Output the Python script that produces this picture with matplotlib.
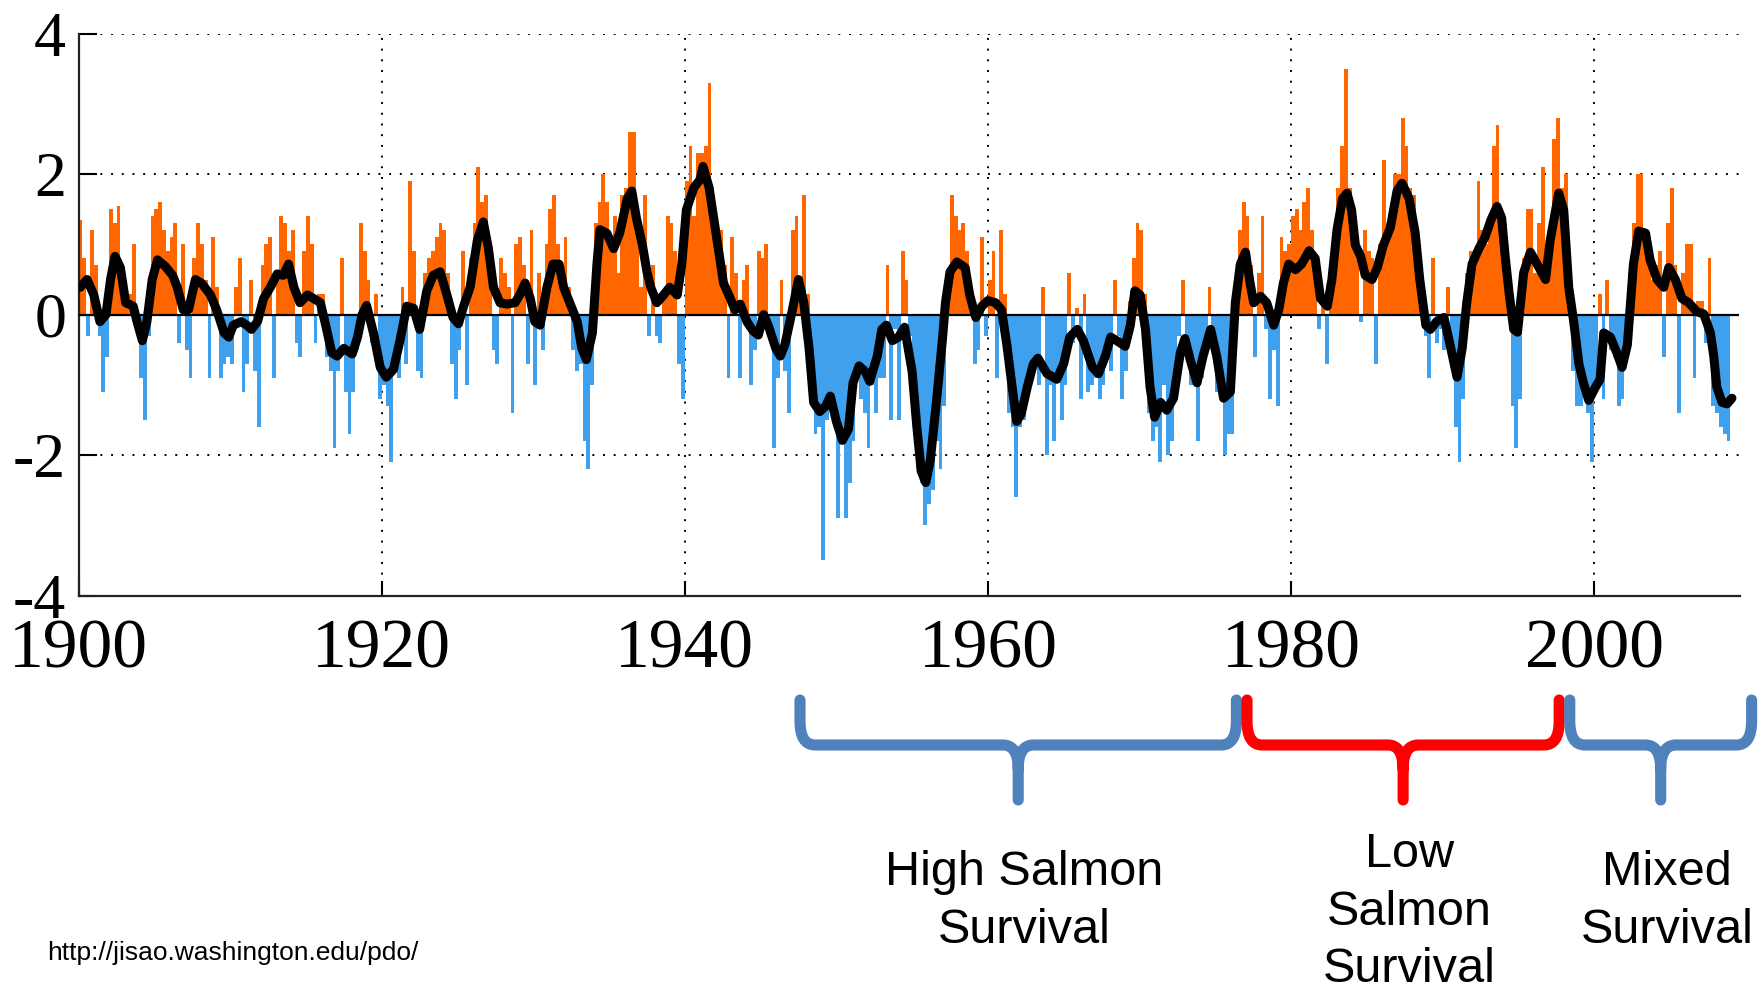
import numpy as np
import matplotlib
matplotlib.use("Agg")
import matplotlib.pyplot as plt
from matplotlib.path import Path
from matplotlib.patches import PathPatch
from matplotlib.transforms import blended_transform_factory

plt.rcParams['axes.unicode_minus'] = False

# --- Data ---
# quarterly PDO index (Jan-Mar, Apr-Jun, Jul-Sep, Oct-Dec), one row per year
pdo_1900s = [1.35, 0.8, -0.3, 1.2,   0.7, -0.3, -1.1, -0.6,   1.5, 1.3, 1.55, 0.3,
             0.4, 0.3, 1.0, -0.2,    -0.9, -1.5, -0.3, 1.4,   1.5, 1.6, 1.2, 0.9,
             1.1, 1.3, -0.4, 1.0,    -0.5, -0.9, 0.8, 1.3,    1.0, 0.5, -0.9, 1.1,
             0.4, -0.9, -0.7, -0.6]
pdo_1910s = [-0.7, 0.4, 0.8, -1.1,   -0.7, 0.5, -0.8, -1.6,   0.7, 1.0, 1.1, -0.9,
             0.6, 1.4, 1.3, 0.9,     1.2, -0.4, -0.6, 0.9,    1.4, 1.0, -0.4, 0.3,
             0.3, -0.6, -0.8, -1.9,  -0.8, 0.8, -1.1, -1.7,   -1.1, -0.5, 1.3, 0.9,
             0.5, -0.4, 0.3, -1.2]
pdo_1920s = [-1.0, -1.3, -2.1, -0.5, -0.9, 0.4, -0.7, 1.9,    0.9, -0.8, -0.9, 0.6,
             0.8, 0.9, 1.1, 1.3,     1.2, 0.6, -0.7, -1.2,    -0.5, 0.9, -1.0, 0.8,
             1.3, 2.1, 1.6, 1.7,     0.9, -0.5, -0.7, 0.8,    0.6, 0.4, -1.4, 1.0,
             1.1, 0.7, -0.7, 1.2]
pdo_1930s = [-1.0, 0.6, -0.5, 1.0,   1.5, 1.7, 1.0, 0.5,      1.1, 0.4, -0.5, -0.8,
             -0.7, -1.8, -2.2, -1.0, 1.3, 1.6, 2.0, 1.6,      1.0, 1.4, 0.6, 1.7,
             1.8, 2.6, 2.6, 1.4,     0.4, 1.7, -0.3, 0.7,     -0.3, -0.4, 0.3, 1.4,
             1.3, 0.9, -0.7, -1.2]
pdo_1940s = [1.9, 2.4, 1.4, 2.3,     2.3, 2.4, 3.3, 1.4,      0.9, 1.2, 0.7, -0.9,
             1.1, 0.6, -0.9, 0.5,    0.7, -1.0, -0.5, 0.9,    0.8, 1.0, -0.3, -1.9,
             -0.9, 0.5, -0.8, -1.4,  1.2, 1.4, 0.3, 1.7,      0.3, -0.7, -1.7, -1.6,
             -3.5, -1.5, -1.1, -1.4]
pdo_1950s = [-2.9, -1.8, -2.9, -2.4, -1.8, -0.7, -1.2, -1.4,  -1.9, -1.0, -1.4, -0.9,
             -0.9, 0.7, -1.5, -0.2,  -1.5, 0.9, 0.5, -0.3,    -1.3, -2.2, -2.4, -3.0,
             -2.7, -2.5, -1.8, -2.2, -1.3, 0.6, 1.7, 1.4,     1.2, 1.3, 0.9, 0.4,
             -0.7, -0.5, 1.1, -0.3]
pdo_1960s = [0.5, 0.9, -0.9, 1.2,    0.3, -1.4, -1.6, -2.6,   -1.6, -1.5, -1.1, -0.8,
             -0.7, -1.0, 0.4, -2.0,  -1.0, -1.8, -0.9, -1.5,  -1.0, 0.6, -0.4, 0.1,
             -1.2, 0.3, -1.1, -1.0,  -0.9, -1.2, -1.0, -0.6,  -0.8, 0.5, -0.3, -1.2,
             -0.8, 0.2, 0.8, 1.3]
pdo_1970s = [1.2, 0.3, -1.4, -1.8,   -1.6, -2.1, -1.0, -2.0,  -1.8, -1.2, -0.3, 0.5,
             -0.5, -1.0, -1.0, -1.8, -0.9, -0.3, 0.4, -0.3,   -1.1, -1.2, -2.0, -1.7,
             -1.7, 0.3, 1.2, 1.6,    1.4, 0.7, -0.6, 0.6,     1.4, -0.2, -1.2, -0.5,
             -1.3, 1.1, 0.9, 1.0]
pdo_1980s = [1.4, 1.5, 1.2, 1.6,     1.8, 1.2, 0.8, -0.2,     0.3, -0.7, 0.6, 1.2,
             1.8, 2.4, 3.5, 1.8,     1.4, 0.9, -0.1, 1.2,     0.9, 0.8, -0.7, 1.0,
             2.2, 1.3, 1.4, 2.0,     2.0, 2.8, 2.4, 1.8,      1.7, 1.0, 0.3, -0.3,
             -0.9, 0.8, -0.4, -0.2]
pdo_1990s = [-0.5, 0.4, -0.6, -1.6,  -2.1, -1.2, 0.6, 0.9,    0.9, 1.9, 1.2, 1.0,
             1.3, 2.4, 2.7, 1.4,     1.3, 0.2, -1.3, -1.9,    -1.2, 0.8, 1.5, 1.5,
             0.6, 1.3, 2.1, 0.5,     1.3, 2.5, 2.8, 1.8,      2.0, 0.6, -0.8, -1.3,
             -1.3, -0.9, -1.4, -2.1]
pdo_2000s = [-1.0, 0.3, -1.2, 0.5,   -0.5, -0.6, -1.3, -1.2,  -0.6, 0.6, 1.3, 2.0,
             2.0, 1.1, 0.7, 0.5,     0.7, 0.9, -0.6, 1.3,     1.8, 0.7, -1.4, 0.6,
             1.0, 1.0, -0.9, 0.2,    0.2, -0.4, 0.8, -1.3,    -1.4, -1.6, -1.7, -1.8]

# smoothed curve (black line), read at irregular points
smooth_years = [
    1900.1, 1900.55, 1901.0, 1901.4, 1901.8, 1902.1, 1902.4, 1902.75, 1903.1, 1903.6,
    1903.85, 1904.2, 1904.5, 1904.85, 1905.2, 1905.7, 1906.2, 1906.5, 1906.9, 1907.25,
    1907.7, 1908.1, 1908.7, 1909.1, 1909.6, 1909.9, 1910.2, 1910.7, 1911.1, 1911.4,
    1911.8, 1912.2, 1912.65, 1913.1, 1913.5, 1913.85, 1914.2, 1914.6, 1915.1, 1915.5,
    1915.95, 1916.3, 1916.7, 1917.05, 1917.5, 1918.05, 1918.4, 1918.7, 1919.0, 1919.45,
    1919.9, 1920.3, 1920.77, 1921.2, 1921.65, 1922.1, 1922.5, 1922.97, 1923.4, 1923.85,
    1924.3, 1924.7, 1925.06, 1925.4, 1925.83, 1926.3, 1926.7, 1927.04, 1927.37, 1927.8,
    1928.25, 1928.8, 1929.1, 1929.46, 1929.8, 1930.1, 1930.45, 1930.9, 1931.3, 1931.7,
    1932.0, 1932.5, 1932.9, 1933.2, 1933.5, 1933.9, 1934.2, 1934.4, 1934.85, 1935.3,
    1935.7, 1936.2, 1936.5, 1936.8, 1937.2, 1937.5, 1937.75, 1938.15, 1938.6, 1939.0,
    1939.5, 1939.8, 1940.1, 1940.6, 1941.0, 1941.2, 1941.6, 1941.9, 1942.2, 1942.55,
    1943.0, 1943.3, 1943.65, 1944.1, 1944.5, 1944.85, 1945.2, 1945.5, 1946.0, 1946.3,
    1946.6, 1947.1, 1947.5, 1947.85, 1948.2, 1948.5, 1948.9, 1949.3, 1949.6, 1950.0,
    1950.4, 1950.8, 1951.1, 1951.5, 1951.9, 1952.2, 1952.7, 1953.0, 1953.3, 1953.7,
    1954.1, 1954.5, 1955.0, 1955.3, 1955.6, 1955.9, 1956.2, 1956.6, 1957.0, 1957.2,
    1957.5, 1957.95, 1958.5, 1958.8, 1959.2, 1959.6, 1960.0, 1960.5, 1960.9, 1961.25,
    1961.6, 1961.9, 1962.2, 1962.6, 1963.0, 1963.3, 1963.9, 1964.55, 1965.0, 1965.4,
    1965.9, 1966.3, 1966.9, 1967.3, 1967.75, 1968.1, 1968.5, 1969.06, 1969.4, 1969.7,
    1970.05, 1970.4, 1970.7, 1971.0, 1971.4, 1971.8, 1972.25, 1972.7, 1973.0, 1973.35,
    1973.8, 1974.2, 1974.7, 1975.1, 1975.55, 1976.0, 1976.33, 1976.66, 1977.0, 1977.3,
    1977.54, 1978.0, 1978.4, 1978.86, 1979.2, 1979.5, 1979.85, 1980.3, 1980.7, 1981.2,
    1981.6, 1981.95, 1982.4, 1982.7, 1983.04, 1983.4, 1983.7, 1984.0, 1984.25, 1984.6,
    1984.9, 1985.35, 1985.7, 1986.1, 1986.56, 1987.0, 1987.33, 1987.8, 1988.2, 1988.5,
    1988.9, 1989.2, 1989.6, 1990.1, 1990.5, 1990.96, 1991.3, 1991.6, 1991.95, 1992.4,
    1992.8, 1993.2, 1993.6, 1993.9, 1994.15, 1994.4, 1994.7, 1994.95, 1995.36, 1995.8,
    1996.24, 1996.8, 1997.1, 1997.67, 1998.0, 1998.33, 1998.66, 1999.0, 1999.3, 1999.65,
    2000.1, 2000.4, 2000.64, 2001.08, 2001.5, 2001.85, 2002.2, 2002.6, 2002.95, 2003.4,
    2003.7, 2004.16, 2004.6, 2004.93, 2005.37, 2005.8, 2006.25, 2006.8, 2007.24, 2007.68,
    2007.9, 2008.1, 2008.45, 2008.78, 2009.1]
smooth_values = [
    0.39, 0.5, 0.28, -0.1, 0.0, 0.5, 0.83, 0.67, 0.17, 0.12,
    -0.1, -0.37, -0.1, 0.5, 0.78, 0.69, 0.56, 0.39, 0.07, 0.07,
    0.5, 0.45, 0.28, 0.07, -0.26, -0.32, -0.15, -0.1, -0.15, -0.21,
    -0.1, 0.23, 0.39, 0.58, 0.56, 0.72, 0.39, 0.17, 0.28, 0.23,
    0.17, -0.15, -0.54, -0.59, -0.48, -0.56, -0.32, 0.0, 0.13, -0.26,
    -0.75, -0.89, -0.78, -0.37, 0.12, 0.09, -0.21, 0.34, 0.56, 0.61,
    0.28, -0.04, -0.13, 0.12, 0.39, 1.05, 1.32, 0.94, 0.39, 0.17,
    0.15, 0.17, 0.28, 0.45, 0.23, -0.1, -0.15, 0.39, 0.72, 0.72,
    0.39, 0.12, -0.1, -0.48, -0.64, -0.26, 0.72, 1.21, 1.16, 0.94,
    1.16, 1.65, 1.76, 1.38, 0.99, 0.61, 0.39, 0.17, 0.28, 0.39,
    0.28, 0.72, 1.49, 1.81, 1.92, 2.11, 1.81, 1.38, 0.94, 0.45,
    0.23, 0.07, 0.15, -0.1, -0.23, -0.29, 0.0, -0.15, -0.48, -0.59,
    -0.43, 0.07, 0.5, 0.17, -0.48, -1.25, -1.38, -1.3, -1.16, -1.52,
    -1.79, -1.63, -0.97, -0.73, -0.81, -0.95, -0.59, -0.21, -0.15, -0.37,
    -0.32, -0.18, -0.81, -1.57, -2.23, -2.39, -2.07, -1.25, -0.35, 0.17,
    0.61, 0.75, 0.67, 0.28, -0.04, 0.12, 0.2, 0.17, 0.07, -0.43,
    -1.03, -1.52, -1.41, -1.03, -0.7, -0.62, -0.84, -0.92, -0.7, -0.32,
    -0.21, -0.37, -0.75, -0.84, -0.59, -0.32, -0.37, -0.45, -0.15, 0.34,
    0.28, -0.21, -1.03, -1.46, -1.25, -1.36, -1.19, -0.54, -0.34, -0.64,
    -0.97, -0.59, -0.21, -0.59, -1.19, -1.1, 0.17, 0.72, 0.89, 0.45,
    0.17, 0.26, 0.17, -0.15, 0.07, 0.45, 0.72, 0.64, 0.72, 0.91,
    0.8, 0.23, 0.12, 0.5, 1.21, 1.65, 1.73, 1.49, 0.99, 0.83,
    0.56, 0.5, 0.67, 0.99, 1.24, 1.76, 1.87, 1.65, 1.16, 0.5,
    -0.15, -0.21, -0.1, -0.04, -0.43, -0.89, -0.48, 0.17, 0.72, 0.94,
    1.1, 1.35, 1.54, 1.38, 0.8, 0.3, -0.21, -0.25, 0.6, 0.89,
    0.72, 0.5, 1.05, 1.73, 1.49, 0.39, -0.1, -0.7, -0.97, -1.22,
    -1.03, -0.92, -0.26, -0.32, -0.54, -0.75, -0.43, 0.72, 1.19, 1.16,
    0.78, 0.5, 0.39, 0.67, 0.5, 0.23, 0.17, 0.04, 0.01, -0.26,
    -0.59, -1.03, -1.25, -1.27, -1.19]

year_ticks = [1900, 1920, 1940, 1960, 1980, 2000]
value_ticks = [-4, -2, 0, 2, 4]

brace_spans = [(1947.6, 1976.4), (1977.1, 1997.7), (1998.4, 2010.4)]
brace_colors = ['#4f81bd', '#ff0000', '#4f81bd']
brace_labels = ['High Salmon\nSurvival', 'Low\nSalmon\nSurvival', 'Mixed\nSurvival']
label_tops = [850, 832, 850]   # pixel rows (from top) of the first text line

source_text = 'http://jisao.washington.edu/pdo/'

# --- Build the figure ---
W, H = 1762, 985
fig = plt.figure(figsize=(W / 100, H / 100), dpi=100)
ax = fig.add_axes([78.7 / W, 1 - 595.6 / H, (1739.5 - 78.7) / W, (595.6 - 33.7) / H])

quarterly = np.array(pdo_1900s + pdo_1910s + pdo_1920s + pdo_1930s + pdo_1940s +
                     pdo_1950s + pdo_1960s + pdo_1970s + pdo_1980s + pdo_1990s + pdo_2000s)
starts = 1900 + 0.25 * np.arange(len(quarterly))
bar_colors = np.where(quarterly > 0, '#ff6600', '#3fa0ee')
ax.bar(starts, quarterly, width=0.25, align='edge', color=bar_colors, linewidth=0, zorder=2)

ax.axhline(0, color='black', lw=1.6, zorder=3)
ax.plot(smooth_years, smooth_values, color='black', lw=6.5,
        solid_joinstyle='round', solid_capstyle='round', zorder=4)

ax.set_xlim(1900, 2009.6)
ax.set_ylim(-4, 4)
ax.set_xticks(year_ticks)
ax.set_yticks(value_ticks)
ax.set_xticklabels([str(y) for y in year_ticks], fontfamily='Liberation Serif', fontsize=50)
ax.set_yticklabels([str(v) for v in value_ticks], fontfamily='Liberation Serif', fontsize=46)
ax.tick_params(axis='x', direction='in', length=11, width=1.5, pad=17)
ax.tick_params(axis='y', direction='in', length=13, width=1.5, pad=9)

ax.grid(True, color='black', linestyle=(0, (1, 4.5)), linewidth=1.4)
ax.set_axisbelow(True)
for side in ['top', 'right']:
    ax.spines[side].set_visible(False)
for side in ['left', 'bottom']:
    ax.spines[side].set_linewidth(1.6)
    ax.spines[side].set_color('#222222')

# --- Braces and labels below the axis ---
def fy(py):
    return 1 - py / H

trans = blended_transform_factory(ax.transData, fig.transFigure)
y_top, y_bar, y_tip = fy(700), fy(745), fy(800)
ry = 24 / H
rx = 1.0
for (x0, x1), col, lab, ty in zip(brace_spans, brace_colors, brace_labels, label_tops):
    xc = (x0 + x1) / 2
    verts = [(x0, y_top), (x0, y_bar + ry), (x0, y_bar), (x0 + rx, y_bar),
             (xc - rx, y_bar), (xc, y_bar), (xc, y_bar - ry), (xc, y_tip),
             (x1, y_top), (x1, y_bar + ry), (x1, y_bar), (x1 - rx, y_bar),
             (xc + rx, y_bar), (xc, y_bar), (xc, y_bar - ry)]
    codes = [Path.MOVETO, Path.LINETO, Path.CURVE3, Path.CURVE3,
             Path.LINETO, Path.CURVE3, Path.CURVE3, Path.LINETO,
             Path.MOVETO, Path.LINETO, Path.CURVE3, Path.CURVE3,
             Path.LINETO, Path.CURVE3, Path.CURVE3]
    patch = PathPatch(Path(verts, codes), fill=False, edgecolor=col, lw=8,
                      capstyle='round', joinstyle='round', transform=trans, clip_on=False)
    fig.add_artist(patch)
    fig.text(xc + 0.4, fy(ty), lab, transform=trans, fontfamily='Liberation Sans',
             fontsize=35, ha='center', va='top', linespacing=1.36)

fig.text(47 / W, fy(953), source_text, fontfamily='Liberation Sans', fontsize=19,
         ha='left', va='center')

fig.savefig('out.png', dpi=100)
